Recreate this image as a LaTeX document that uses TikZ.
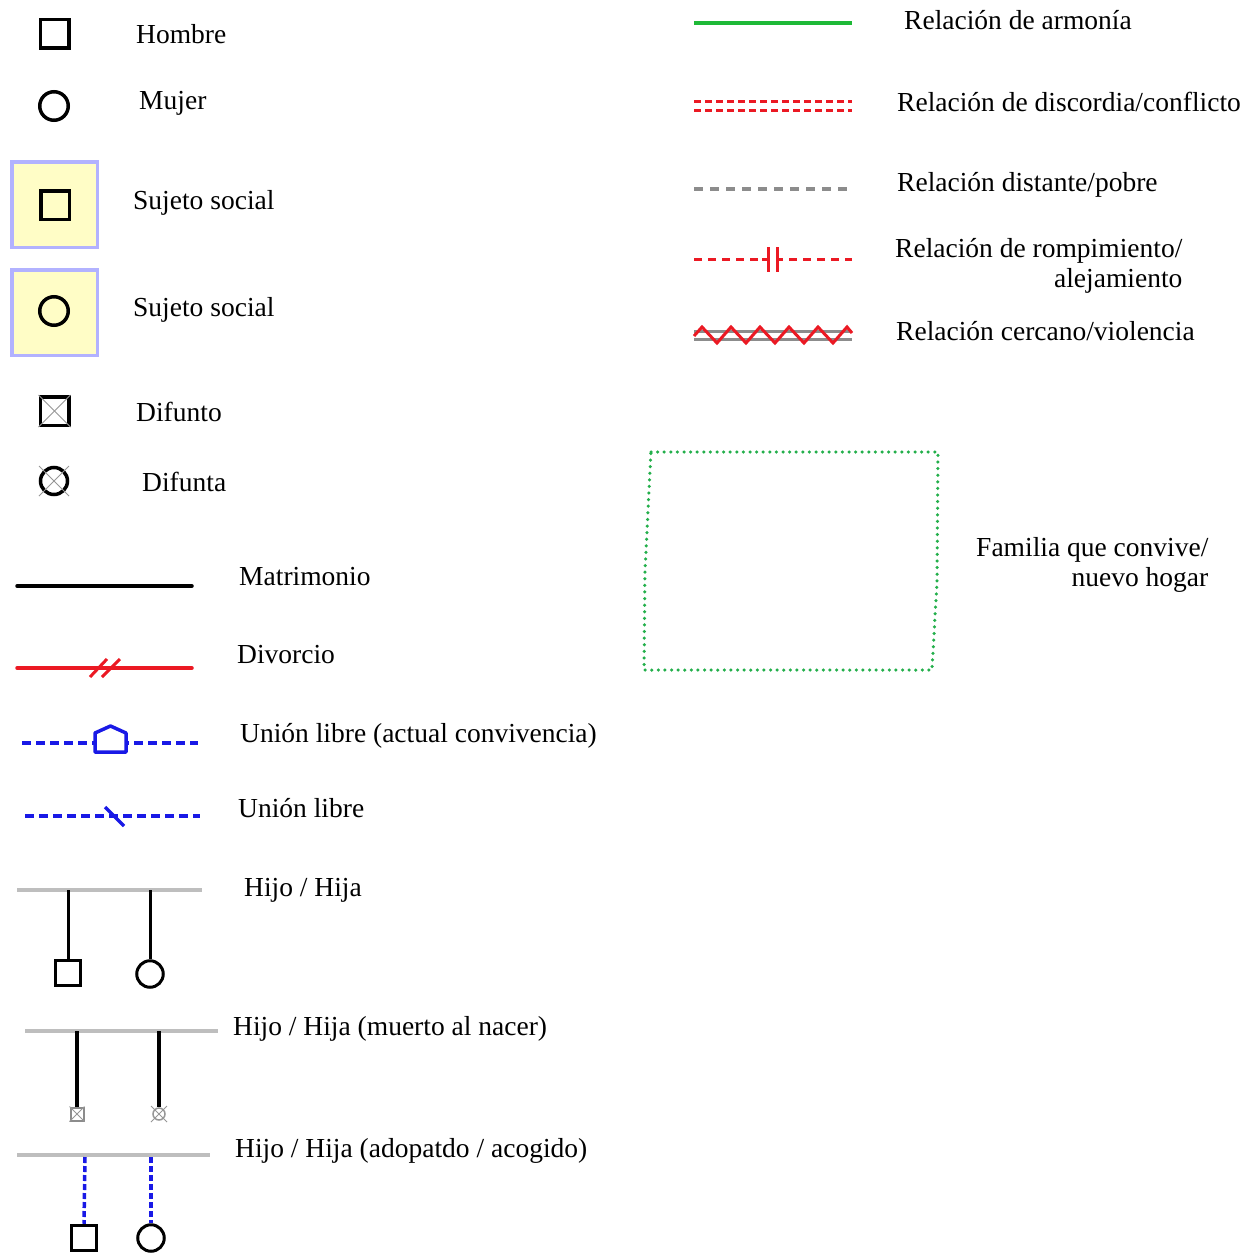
\documentclass[tikz,border=0pt]{standalone}
\usepackage{fontspec}
\setmainfont{Liberation Serif}
\definecolor{harm}{RGB}{30,185,55}
\definecolor{conf}{RGB}{235,25,35}
\definecolor{blu}{RGB}{25,25,230}
\definecolor{lgray}{RGB}{190,190,190}
\definecolor{dgray}{RGB}{140,140,140}
\definecolor{xgray}{RGB}{150,150,150}
\definecolor{yfill}{RGB}{255,253,198}
\definecolor{lav}{RGB}{178,178,255}
\definecolor{boxgreen}{RGB}{35,175,75}
\tikzset{
 lbl/.style={anchor=base west, inner sep=0pt, font=\fontsize{27.5}{30}\selectfont},
 lblr/.style={anchor=base west, inner sep=0pt, align=right, font=\fontsize{27.5}{29.5}\selectfont},
 male/.style={draw, rectangle, line width=3.5pt, minimum size=28.5pt, inner sep=0pt},
 female/.style={draw, circle, line width=3.5pt, minimum size=28.5pt, inner sep=0pt},
 kidm/.style={draw, rectangle, line width=3pt, minimum size=25.5pt, inner sep=0pt, fill=white},
 kidf/.style={draw, circle, line width=3pt, minimum size=26.5pt, inner sep=0pt, fill=white},
 subj/.style={draw=lav, fill=yfill, line width=3.5pt, rectangle, minimum size=85.5pt, inner sep=0pt},
 xline/.style={draw=xgray, line width=1pt},
 sibline/.style={draw=lgray, line width=4pt},
 desc/.style={draw=black, line width=3pt},
 adopt/.style={draw=blu, line width=3.5pt, dash pattern=on 6pt off 3pt},
}
\begin{document}
\begin{tikzpicture}[x=1pt,y=-1pt]
\useasboundingbox (0,0) rectangle (1245,1253);
% ---------- left column: persons ----------
\node[male] (hombre) at (54.5,33.5) {};
\node[lbl] (thombre) at (136,43) {Hombre};
\node[female] (mujer) at (54,106) {};
\node[lbl] (tmujer) at (139,109) {Mujer};
\node[subj] (sbox1) at (54.5,204.5) {};
\node[male] (sujm) at (55,205) {};
\node[lbl] (tsuj1) at (133,209) {Sujeto social};
\node[subj] (sbox2) at (54.5,312.5) {};
\node[female] (sujf) at (54,311) {};
\node[lbl] (tsuj2) at (133,316) {Sujeto social};
\node[male] (difunto) at (54.5,411) {};
\draw[xline] (difunto.north west) -- (difunto.south east);
\draw[xline] (difunto.north east) -- (difunto.south west);
\node[lbl] (tdifunto) at (136,421) {Difunto};
\node[female, minimum size=27pt] (difunta) at (54,481) {};
\draw[xline] ([shift={(-15,-15)}]difunta.center) -- ([shift={(15,15)}]difunta.center);
\draw[xline] ([shift={(15,-15)}]difunta.center) -- ([shift={(-15,15)}]difunta.center);
\node[lbl] (tdifunta) at (142,491) {Difunta};
% ---------- unions ----------
\coordinate (mat1) at (17,586); \coordinate (mat2) at (192,586);
\draw[line width=3.5pt, line cap=round] (mat1) -- (mat2);
\node[lbl] (tmat) at (239,585) {Matrimonio};
\coordinate (div1) at (17,668); \coordinate (div2) at (192,668);
\draw[conf, line width=3.5pt, line cap=round] (div1) -- (div2);
\draw[conf, line width=3pt] (90,677) -- (107,659);
\draw[conf, line width=3pt] (102,677) -- (120,659);
\node[lbl] (tdiv) at (237,663) {Divorcio};
\coordinate (ula1) at (22,743); \coordinate (ula2) at (198,743);
\draw[blu, line width=3.5pt, dash pattern=on 9pt off 5pt] (ula1) -- (ula2);
\draw[blu, line width=3.5pt, fill=white, line join=round] (95,752) -- (95,733) -- (110.5,726) -- (126,733) -- (126,752) -- cycle;
\node[lbl] (tula) at (240,742) {Unión libre (actual convivencia)};
\coordinate (ul1) at (25,816); \coordinate (ul2) at (200,816);
\draw[blu, line width=3.5pt, dash pattern=on 9pt off 5pt] (ul1) -- (ul2);
\draw[blu, line width=3.5pt] (105,807) -- (124,826);
\node[lbl] (tul) at (238,817) {Unión libre};
% ---------- children ----------
\coordinate (s1a) at (17,890); \coordinate (s1b) at (202,890);
\draw[sibline] (s1a) -- (s1b);
\node[kidm] (hijo1) at (68,973) {};
\node[kidf] (hija1) at (150,974) {};
\draw[desc] (68,890) -- (hijo1.north);
\draw[desc] (150,890) -- (hija1.north);
\node[lbl] (thijo1) at (244,896) {Hijo / Hija};
\coordinate (s2a) at (25,1031); \coordinate (s2b) at (218,1031);
\draw[sibline] (s2a) -- (s2b);
\node[draw=dgray, line width=2pt, rectangle, minimum size=13pt, inner sep=0pt] (hijo2) at (77,1114) {};
\draw[xline, line width=0.8pt] (hijo2.north west) -- (hijo2.south east);
\draw[xline, line width=0.8pt] (hijo2.north east) -- (hijo2.south west);
\node[draw=xgray, line width=1.5pt, circle, minimum size=12pt, inner sep=0pt] (hija2) at (159,1114) {};
\draw[xline, line width=0.8pt] ([shift={(-8,-8)}]hija2.center) -- ([shift={(8,8)}]hija2.center);
\draw[xline, line width=0.8pt] ([shift={(8,-8)}]hija2.center) -- ([shift={(-8,8)}]hija2.center);
\draw[desc, line width=3.5pt] (77,1031) -- (hijo2.north);
\draw[desc, line width=3.5pt] (159,1031) -- (hija2.north);
\node[lbl] (thijo2) at (233,1035) {Hijo / Hija (muerto al nacer)};
\coordinate (s3a) at (17,1155); \coordinate (s3b) at (210,1155);
\draw[sibline] (s3a) -- (s3b);
\node[kidm] (hijo3) at (84,1238) {};
\node[kidf] (hija3) at (151,1238) {};
\draw[adopt] (85,1157) -- (hijo3.north);
\draw[adopt] (151,1157) -- (hija3.north);
\node[lbl] (thijo3) at (235,1157) {Hijo / Hija (adopatdo / acogido)};
% ---------- right column: relations ----------
\coordinate (ar1) at (694,23); \coordinate (ar2) at (852,23);
\draw[harm, line width=4pt] (ar1) -- (ar2);
\node[lbl] (tar) at (904,29) {Relación de armonía};
\coordinate (co1) at (694,101.5); \coordinate (co2) at (852,101.5);
\coordinate (co3) at (694,110); \coordinate (co4) at (852,110);
\draw[conf, line width=3pt, dash pattern=on 7pt off 4pt] (co1) -- (co2);
\draw[conf, line width=3pt, dash pattern=on 7pt off 4pt] (co3) -- (co4);
\node[lbl] (tco) at (897,111) {Relación de discordia/conflicto};
\coordinate (di1) at (694,189); \coordinate (di2) at (852,189);
\draw[dgray, line width=3.5pt, dash pattern=on 9pt off 7pt] (di1) -- (di2);
\node[lbl] (tdi) at (897,191) {Relación distante/pobre};
\coordinate (ro1) at (694,259); \coordinate (ro2) at (852,259);
\coordinate (rb1) at (768,259); \coordinate (rb2) at (777,259);
\draw[conf, line width=3pt, dash pattern=on 8pt off 6pt] (ro1) -- (762,259);
\draw[conf, line width=3pt] (762,259) -- (rb1) (rb2) -- (783,259);
\draw[conf, line width=3pt] (768,247) -- (768,272) (777,247) -- (777,272);
\draw[conf, line width=3pt, dash pattern=on 8pt off 6pt] (789,259) -- (ro2);
\node[lblr] (tro) at (895,287) {Relación de rompimiento/\\alejamiento};
\coordinate (zz1) at (694,331.5); \coordinate (zz2) at (852,331.5);
\coordinate (zz3) at (694,339); \coordinate (zz4) at (852,339);
\draw[dgray, line width=3pt] (zz1) -- (zz2) (zz3) -- (zz4);
\draw[conf, line width=3pt, line join=miter] (694,336) -- (702,327) -- (717,343) -- (731,327) -- (746,343) -- (760,327) -- (775,343) -- (789,327) -- (804,343) -- (818,327) -- (833,343) -- (847,327) -- (852,333);
\node[lbl] (tzz) at (896,340) {Relación cercano/violencia};
% ---------- household box ----------
\draw[boxgreen, line width=3.5pt, line cap=round, dash pattern=on 0pt off 6.6pt] (651,452) -- (938,452) -- (937,582) -- (932,670) -- (644,670) -- (645,570) -- cycle;
\node[lblr] (tfam) at (976,586) {Familia que convive/\\nuevo hogar};
\end{tikzpicture}
\end{document}
